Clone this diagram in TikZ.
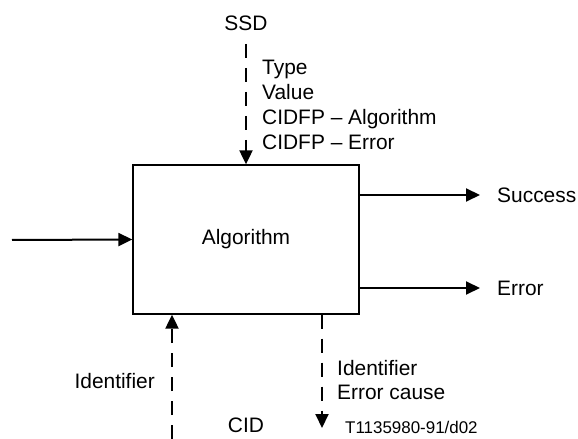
\documentclass[tikz,border=0pt]{standalone}
\usepackage{fontspec}
\setmainfont{Liberation Sans}
\usetikzlibrary{arrows.meta}

\begin{document}
\begin{tikzpicture}[x=1bp,y=-1bp,
	every node/.style={font=\fontsize{21}{25}\selectfont, inner sep=0pt},
	flow/.style={line width=2bp, -{Triangle[length=14bp,width=13bp]}},
	ctrl/.style={flow, dash pattern=on 14bp off 10bp},
	block/.style={draw, line width=1.3bp, minimum width=226bp, minimum height=149bp}]
			\useasboundingbox (0,0) rectangle (578,439);
			\node[block] (algo) at (246,239.5) {Algorithm};
			% inputs
			\node (ssd) at (246,23) {SSD};
			\node[anchor=west, align=left] (ssdinfo) at (262,105) {Type\\Value\\CIDFP -- Algorithm\\CIDFP -- Error};
			\coordinate (ssdend) at (246,44);
			\draw[ctrl] (ssdend) -- (algo.north);
			\coordinate (inp) at (12,240);
			\draw[flow] (inp) -- (algo.west);
			\node[anchor=east] (idin) at (155,381) {Identifier};
			\coordinate (cidin) at (172,439);
			\draw[ctrl] (cidin) -- (cidin |- algo.south);
			% outputs
			\node[anchor=west] (succ) at (497,195) {Success};
			\node[anchor=west] (err) at (497,288) {Error};
			\coordinate (succend) at (480,195);
			\coordinate (errend) at (480,288);
			\draw[flow] (algo.east |- succend) -- (succend);
			\draw[flow] (algo.east |- errend) -- (errend);
			\coordinate (cidout) at (322,428);
			\draw[ctrl] (cidout |- algo.south) -- (cidout);
			\node[anchor=west, align=left] (idout) at (337,380) {Identifier\\Error cause};
			\node (cid) at (246,425) {CID};
			\node[anchor=west, font=\fontsize{17}{20}\selectfont] (tag) at (345,427) {T1135980-91/d02};
		\end{tikzpicture}
\end{document}
